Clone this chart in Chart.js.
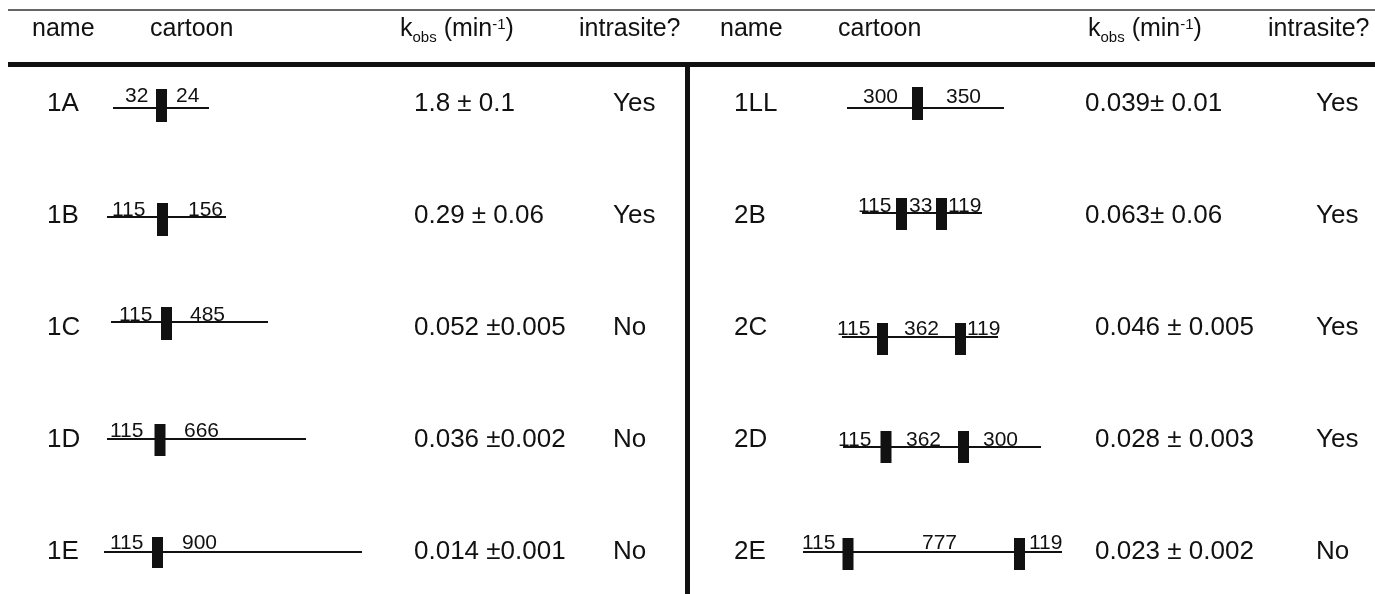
<!DOCTYPE html>
<html>
<head>
<meta charset="utf-8">
<script src="https://cdn.jsdelivr.net/npm/chart.js@4"></script>
<style>
  html, body { margin: 0; padding: 0; background: #fff; }
  #wrap { position: relative; width: 1375px; height: 594px; overflow: hidden; }
  #wrap canvas { position: absolute; left: 0; top: 0; }
  .t { position: absolute; white-space: nowrap; line-height: 1; transform: translateY(-50%);
       font-family: "Liberation Sans", Arial, sans-serif; color: #111; }
  .sub { font-size: 0.6em; position: relative; top: 0.38em; }
  .sup { font-size: 0.6em; position: relative; top: -0.45em; }
</style>
</head>
<body>
<div id="wrap"><canvas id="chart" width="1375" height="594"></canvas></div>
<script>
// table content, left half then right half
const leftNames = ['1A', '1B', '1C', '1D', '1E'];
const rightNames = ['1LL', '2B', '2C', '2D', '2E'];
const leftKobs = ['1.8 ± 0.1', '0.29 ± 0.06', '0.052 ±0.005', '0.036 ±0.002', '0.014 ±0.001'];
const rightKobs = ['0.039± 0.01', '0.063± 0.06', '0.046 ± 0.005', '0.028 ± 0.003', '0.023 ± 0.002'];
const leftIntrasite = ['Yes', 'Yes', 'No', 'No', 'No'];
const rightIntrasite = ['Yes', 'Yes', 'Yes', 'Yes', 'No'];
const leftSegments = [['32', '24'], ['115', '156'], ['115', '485'], ['115', '666'], ['115', '900']];
const rightSegments = [['300', '350'], ['115', '33', '119'], ['115', '362', '119'], ['115', '362', '300'], ['115', '777', '119']];

// cartoon schematics (x in drawing units, 1A..1E then 1LL..2E)
const cartoonSpan = [[113, 209], [107, 226], [111, 268], [107, 306], [104, 362],
                     [847, 1004], [862, 982], [842, 998], [843, 1041], [803, 1062]];
const siteCenters = [[161.5], [162.5], [166.5], [160], [157.5],
                     [917.5], [901.5, 941.5], [882.5, 960.5], [886, 963.5], [848, 1019.5]];
const labelStarts = [[125, 176], [112, 188], [119, 190], [110, 184], [110, 182],
                     [863, 946], [858, 909, 948], [837, 904, 967], [838, 906, 983], [802, 922, 1029]];
const lineLevel = [6, 3, -4, 1, 2, 6, -1, 11, 9, 2];
const siteReach = [[-19, 14], [-14, 19], [-15, 18], [-15, 17], [-15, 16],
                   [-21, 12], [-15, 17], [-14, 18], [-16, 16], [-14, 18]];
const labelLift = [-6, -1, -1, -2, -3, -5, -1, -2, -1, -3];

const ROW_PX = 112;     // spacing between table rows
const FIRST_ROW = 102;  // centre of the first row
const toRow = px => (px - FIRST_ROW) / ROW_PX;

const INK = '#111';

const segment = (x1, y1, x2, y2, width, color) => ({
  data: [{ x: x1, y: y1 }, { x: x2, y: y2 }],
  showLine: true,
  borderColor: color || INK,
  borderWidth: width,
  borderCapStyle: 'butt',
  pointRadius: 0,
  pointHoverRadius: 0,
  fill: false
});

const datasets = [];
// table rules
datasets.push(segment(8, toRow(10), 1375, toRow(10), 1.5, '#333'));
datasets.push(segment(8, toRow(64.5), 1375, toRow(64.5), 5));
datasets.push(segment(687.5, toRow(64), 687.5, toRow(594), 5));

// cartoons
cartoonSpan.forEach((span, i) => {
  const row = i % 5;
  const level = row + lineLevel[i] / ROW_PX;
  datasets.push(segment(span[0], level, span[1], level, 2));
  siteCenters[i].forEach(c => {
    datasets.push(segment(c, level + siteReach[i][0] / ROW_PX, c, level + siteReach[i][1] / ROW_PX, 11));
  });
});

const chart = new Chart(document.getElementById('chart'), {
  type: 'scatter',
  data: { datasets },
  options: {
    responsive: false,
    animation: false,
    events: [],
    layout: { padding: 0 },
    plugins: { legend: { display: false }, tooltip: { enabled: false } },
    scales: {
      x: { type: 'linear', min: 0, max: 1375, display: false },
      y: { type: 'linear', min: toRow(0), max: toRow(594), reverse: true, display: false }
    }
  }
});

// text as real DOM text, placed through the chart scales
const wrap = document.getElementById('wrap');
const xs = chart.scales.x, ys = chart.scales.y;
const place = (html, xUnit, yPx, size) => {
  const d = document.createElement('div');
  d.className = 't';
  d.innerHTML = html;
  d.style.left = xs.getPixelForValue(xUnit) + 'px';
  d.style.top = yPx + 'px';
  d.style.fontSize = size + 'px';
  wrap.appendChild(d);
};

// header
const kobsHead = 'k<span class="sub">obs</span> (min<span class="sup">-1</span>)';
const headY = ys.getPixelForValue(toRow(27));
[[32, 150, 400, 579], [720, 838, 1088, 1268]].forEach(cols => {
  place('name', cols[0], headY, 25);
  place('cartoon', cols[1], headY, 25);
  place(kobsHead, cols[2], headY, 25);
  place('intrasite?', cols[3], headY, 25);
});

// body rows
const rightKobsX = [1085, 1085, 1095, 1095, 1095];
for (let r = 0; r < 5; r++) {
  const y = ys.getPixelForValue(r);
  place(leftNames[r], 47, y, 26);
  place(leftKobs[r], 414, y, 26);
  place(leftIntrasite[r], 613, y, 26);
  place(rightNames[r], 734, y, 26);
  place(rightKobs[r], rightKobsX[r], y, 26);
  place(rightIntrasite[r], 1316, y, 26);
}

// cartoon length labels
const allSegments = leftSegments.concat(rightSegments);
allSegments.forEach((labels, i) => {
  const row = i % 5;
  const base = ys.getPixelForValue(row + (lineLevel[i] + labelLift[i]) / ROW_PX);
  labels.forEach((txt, k) => place(txt, labelStarts[i][k], base - 0.358 * 21, 21));
});
</script>
</body>
</html>
